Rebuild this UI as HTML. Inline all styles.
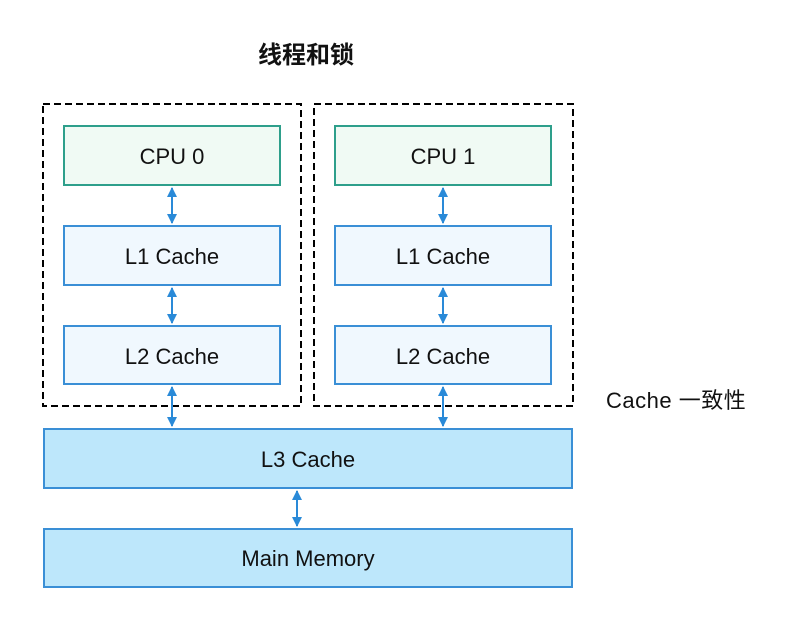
<!DOCTYPE html>
<html><head><meta charset="utf-8"><style>
html,body{margin:0;padding:0;background:#fff;}
svg{display:block;}
text{font-family:"Liberation Sans","Noto Sans CJK SC",sans-serif;fill:#111;}
</style></head><body>
<svg width="790" height="629" viewBox="0 0 790 629" xmlns="http://www.w3.org/2000/svg">
<defs>
<marker id="a" viewBox="0 0 10 10" refX="9" refY="5" markerWidth="5" markerHeight="5" orient="auto-start-reverse">
<path d="M0,0 L10,5 L0,10 z" fill="#2a8ad8"/></marker>
</defs>
<text x="306" y="63" font-size="24" font-weight="bold" text-anchor="middle">线程和锁</text>
<rect x="43" y="104" width="258" height="302" fill="none" stroke="#000" stroke-width="2" stroke-dasharray="7,4"/>
<rect x="314" y="104" width="259" height="302" fill="none" stroke="#000" stroke-width="2" stroke-dasharray="7,4"/>
<g stroke-width="2">
<rect x="64" y="126" width="216" height="59" fill="#f0faf4" stroke="#2e9f8b"/>
<rect x="335" y="126" width="216" height="59" fill="#f0faf4" stroke="#2e9f8b"/>
<rect x="64" y="226" width="216" height="59" fill="#f0f8fe" stroke="#3a8fd6"/>
<rect x="335" y="226" width="216" height="59" fill="#f0f8fe" stroke="#3a8fd6"/>
<rect x="64" y="326" width="216" height="58" fill="#f0f8fe" stroke="#3a8fd6"/>
<rect x="335" y="326" width="216" height="58" fill="#f0f8fe" stroke="#3a8fd6"/>
<rect x="44" y="429" width="528" height="59" fill="#bde7fb" stroke="#3a8fd6"/>
<rect x="44" y="529" width="528" height="58" fill="#bde7fb" stroke="#3a8fd6"/>
</g>
<g stroke="#2a8ad8" stroke-width="2" marker-start="url(#a)" marker-end="url(#a)">
<line x1="172" y1="188" x2="172" y2="223"/>
<line x1="443" y1="188" x2="443" y2="223"/>
<line x1="172" y1="288" x2="172" y2="323"/>
<line x1="443" y1="288" x2="443" y2="323"/>
<line x1="172" y1="387" x2="172" y2="426"/>
<line x1="443" y1="387" x2="443" y2="426"/>
<line x1="297" y1="491" x2="297" y2="526"/>
</g>
<g font-size="22" text-anchor="middle">
<text x="172" y="164">CPU 0</text>
<text x="443" y="164">CPU 1</text>
<text x="172" y="264">L1 Cache</text>
<text x="443" y="264">L1 Cache</text>
<text x="172" y="364">L2 Cache</text>
<text x="443" y="364">L2 Cache</text>
<text x="308" y="467">L3 Cache</text>
<text x="308" y="566">Main Memory</text>
</g>
<text x="606" y="408" font-size="22" letter-spacing="0.5">Cache 一致性</text>
</svg>
</body></html>
